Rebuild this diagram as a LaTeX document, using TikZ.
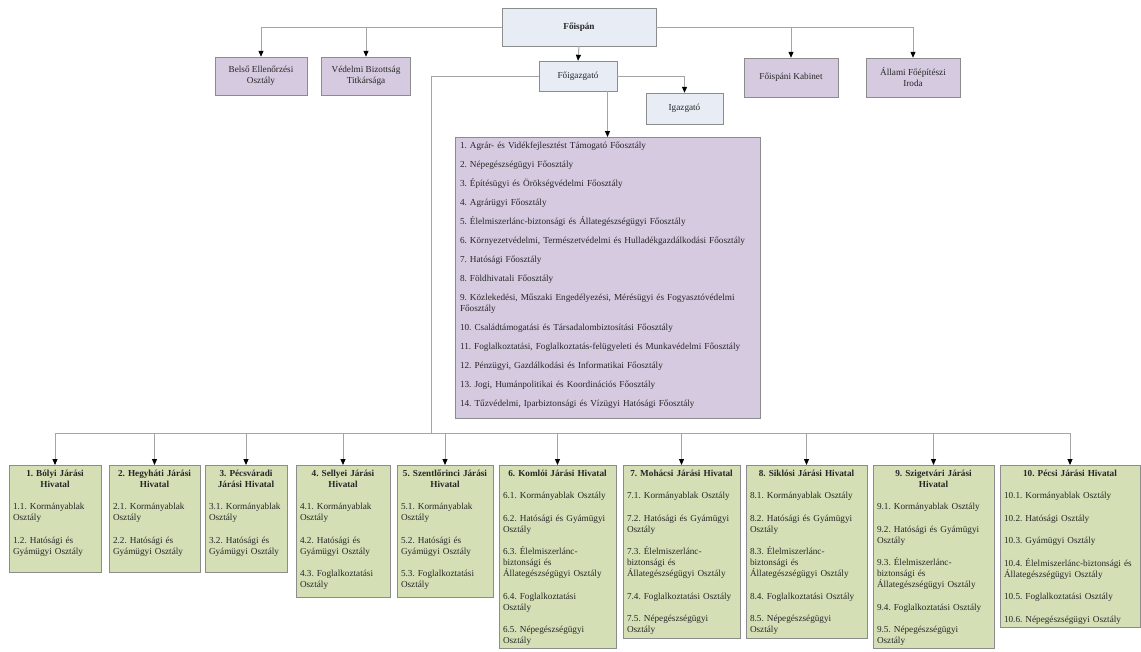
\documentclass[tikz,border=0pt]{standalone}
\usepackage{fontspec}
\setmainfont{Liberation Serif}
\usepackage{tikz}
\usetikzlibrary{arrows.meta, positioning}
\definecolor{vezeto}{RGB}{231,236,245}
\definecolor{torzs}{RGB}{213,202,224}
\definecolor{jarasi}{RGB}{212,223,182}
\definecolor{keret}{RGB}{140,140,140}
\definecolor{vonal}{RGB}{165,165,165}
\newcommand{\nohyph}{\hyphenpenalty 10000\relax}

\begin{document}
\begin{tikzpicture}[x=1pt, y=-1pt, font=\fontsize{9.2}{11}\selectfont\frenchspacing,
    vez/.style={draw=keret, fill=vezeto, align=center, inner sep=0pt, text=black!85},
    tor/.style={draw=keret, fill=torzs, align=center, inner sep=0pt, text=black!85},
    jar/.style={draw=keret, fill=jarasi, anchor=north, align=left, inner xsep=4pt, inner ysep=3pt,
        text height=8pt, text=black!85,
        execute at begin node={\setlength{\parskip}{11.5pt}\nohyph}},
    conn/.style={draw=vonal, line width=1pt},
    arr/.style={conn, -{Triangle[length=6pt, width=5pt, color=black]}}]
    \useasboundingbox (0,0) rectangle (1141,651);

    \node [vez, minimum width=154, minimum height=38] (foispan) at (579,27) {\bfseries Főispán};
    \node [tor, minimum width=92, minimum height=38] (belso) at (261,76) {Belső Ellenőrzési\\Osztály};
    \node [tor, minimum width=89, minimum height=38] (vedelmi) at (366,76) {Védelmi Bizottság\\Titkársága};
    \node [tor, minimum width=94, minimum height=39] (kabinet) at (791,77.5) {Főispáni Kabinet};
    \node [tor, minimum width=94, minimum height=39] (allami) at (913,77.5) {Állami Főépítészi\\Iroda};
    \node [vez, minimum width=78, minimum height=30] (foigazgato) at (578,76) {Főigazgató};
    \node [vez, minimum width=77, minimum height=31] (igazgato) at (684.5,108.5) {Igazgató};

    % list of the main departments under the director general
    \node [tor, anchor=north, align=left, text width=295, inner xsep=5pt, inner ysep=3pt, text height=8pt, text depth=267,
        execute at begin node={\setlength{\parskip}{8pt}\nohyph}] (foosztalyok) at (607.5,137) {%
        1. Agrár- és Vidékfejlesztést Támogató Főosztály\par
        2. Népegészségügyi Főosztály\par
        3. Építésügyi és Örökségvédelmi Főosztály\par
        4. Agrárügyi Főosztály\par
        5. Élelmiszerlánc-biztonsági és Állategészségügyi Főosztály\par
        6. Környezetvédelmi, Természetvédelmi és Hulladékgazdálkodási Főosztály\par
        7. Hatósági Főosztály\par
        8. Földhivatali Főosztály\par
        9. Közlekedési, Műszaki Engedélyezési, Mérésügyi és Fogyasztóvédelmi\\Főosztály\par
        10. Családtámogatási és Társadalombiztosítási Főosztály\par
        11. Foglalkoztatási, Foglalkoztatás-felügyeleti és Munkavédelmi Főosztály\par
        12. Pénzügyi, Gazdálkodási és Informatikai Főosztály\par
        13. Jogi, Humánpolitikai és Koordinációs Főosztály\par
        14. Tűzvédelmi, Iparbiztonsági és Vízügyi Hatósági Főosztály};

    % district offices
    \node [jar, text width=84, text depth=93] (j1) at (55,465) {%
        {\centering\bfseries 1. Bólyi Járási\\Hivatal\par}
        1.1. Kormányablak\\Osztály\par
        1.2. Hatósági és\\Gyámügyi Osztály};
    \node [jar, text width=83, text depth=93] (j2) at (154.5,465) {%
        {\centering\bfseries 2. Hegyháti Járási\\Hivatal\par}
        2.1. Kormányablak\\Osztály\par
        2.2. Hatósági és\\Gyámügyi Osztály};
    \node [jar, text width=74, text depth=93] (j3) at (246,465) {%
        {\centering\bfseries 3. Pécsváradi\\Járási Hivatal\par}
        3.1. Kormányablak\\Osztály\par
        3.2. Hatósági és\\Gyámügyi Osztály};
    \node [jar, text width=86, text depth=118] (j4) at (343,465) {%
        {\centering\bfseries 4. Sellyei Járási\\Hivatal\par}
        4.1. Kormányablak\\Osztály\par
        4.2. Hatósági és\\Gyámügyi Osztály\par
        4.3. Foglalkoztatási\\Osztály};
    \node [jar, text width=88, text depth=118] (j5) at (445,465) {%
        {\centering\bfseries 5. Szentlőrinci Járási\\Hivatal\par}
        5.1. Kormányablak\\Osztály\par
        5.2. Hatósági és\\Gyámügyi Osztály\par
        5.3. Foglalkoztatási\\Osztály};
    \node [jar, text width=109, text depth=169] (j6) at (557.5,465) {%
        {\centering\bfseries 6. Komlói Járási Hivatal\par}
        6.1. Kormányablak Osztály\par
        6.2. Hatósági és Gyámügyi\\Osztály\par
        6.3. Élelmiszerlánc-\\biztonsági és\\Állategészségügyi Osztály\par
        6.4. Foglalkoztatási\\Osztály\par
        6.5. Népegészségügyi\\Osztály};
    \node [jar, text width=109, text depth=159] (j7) at (681.5,465) {%
        {\centering\bfseries 7. Mohácsi Járási Hivatal\par}
        7.1. Kormányablak Osztály\par
        7.2. Hatósági és Gyámügyi\\Osztály\par
        7.3. Élelmiszerlánc-\\biztonsági és\\Állategészségügyi Osztály\par
        7.4. Foglalkoztatási Osztály\par
        7.5. Népegészségügyi\\Osztály};
    \node [jar, text width=113, text depth=159] (j8) at (806.5,465) {%
        {\centering\bfseries 8. Siklósi Járási Hivatal\par}
        8.1. Kormányablak Osztály\par
        8.2. Hatósági és Gyámügyi\\Osztály\par
        8.3. Élelmiszerlánc-\\biztonsági és\\Állategészségügyi Osztály\par
        8.4. Foglalkoztatási Osztály\par
        8.5. Népegészségügyi\\Osztály};
    \node [jar, text width=113, text depth=169] (j9) at (933.5,465) {%
        {\centering\bfseries 9. Szigetvári Járási\\Hivatal\par}
        9.1. Kormányablak Osztály\par
        9.2. Hatósági és Gyámügyi\\Osztály\par
        9.3. Élelmiszerlánc-\\biztonsági és\\Állategészségügyi Osztály\par
        9.4. Foglalkoztatási Osztály\par
        9.5. Népegészségügyi\\Osztály};
    \node [jar, text width=132, text depth=148] (j10) at (1070,465) {%
        {\centering\bfseries 10. Pécsi Járási Hivatal\par}
        10.1. Kormányablak Osztály\par
        10.2. Hatósági Osztály\par
        10.3. Gyámügyi Osztály\par
        10.4. Élelmiszerlánc-biztonsági és\\Állategészségügyi Osztály\par
        10.5. Foglalkoztatási Osztály\par
        10.6. Népegészségügyi Osztály};

    \coordinate (bus) at (431,433);

    \draw [arr] (foispan.west) -| (belso.north);
    \draw [arr] (foispan.west) -| (vedelmi.north);
    \draw [arr] (foispan.east) -| (kabinet.north);
    \draw [arr] (foispan.east) -| (allami.north);
    \draw [arr] (foispan.south) -- (foigazgato.north);
    \draw [arr] (foigazgato.east) -| (igazgato.north);
    \draw [arr] (foosztalyok.north |- foigazgato.south) -- (foosztalyok.north);
    \draw [conn] (foigazgato.west) -| (bus);

    \draw [arr] (bus) -| (j1.north);
    \draw [arr] (bus) -| (j2.north);
    \draw [arr] (bus) -| (j3.north);
    \draw [arr] (bus) -| (j4.north);
    \draw [arr] (bus) -| (j5.north);
    \draw [arr] (bus) -| (j6.north);
    \draw [arr] (bus) -| (j7.north);
    \draw [arr] (bus) -| (j8.north);
    \draw [arr] (bus) -| (j9.north);
    \draw [arr] (bus) -| (j10.north);
\end{tikzpicture}
\end{document}
